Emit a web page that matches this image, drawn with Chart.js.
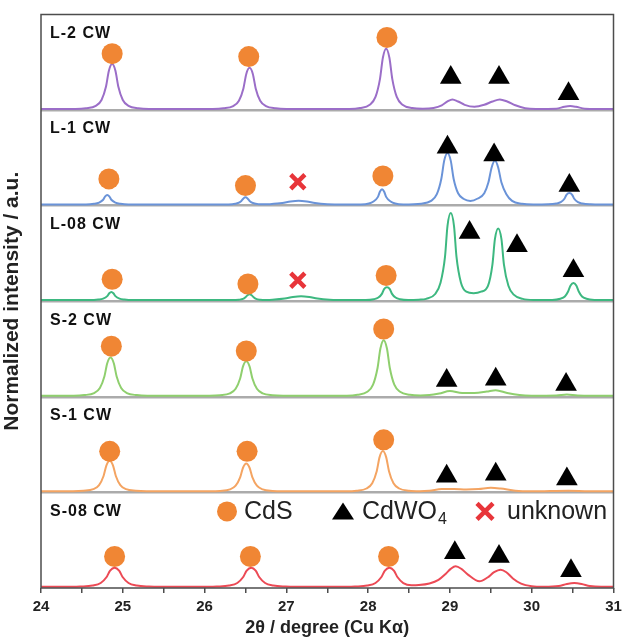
<!DOCTYPE html>
<html>
<head>
<meta charset="utf-8">
<script src="https://cdn.jsdelivr.net/npm/chart.js@4.4.1/dist/chart.umd.min.js"></script>
<style>
  html, body { margin: 0; padding: 0; background: #fff; }
  canvas { display: block; }
</style>
</head>
<body>
<canvas id="xrdChart" width="628" height="639"></canvas>
<script>
// Axis
const angleTicks = [24, 25, 26, 27, 28, 29, 30, 31]

// Samples, top to bottom
const sampleNames = ["L-2 CW", "L-1 CW", "L-08 CW", "S-2 CW", "S-1 CW", "S-08 CW"]
const sampleColors = ["#9b6ec8", "#6a93d8", "#3db880", "#8fcf6e", "#f4a462", "#ec4a55"]

// Patterns [2θ, normalized intensity]
const l2cw = [
  [24, .012], [24.42, .012], [24.55, .019], [24.67, .045], [24.74, .106], [24.795, .247], [24.83, .412],
  [24.87, .482], [24.91, .412], [24.945, .247], [25.00, .106], [25.07, .045], [25.19, .019], [25.32, .012],
  [26.10, .012], [26.23, .018], [26.35, .042], [26.42, .098], [26.475, .227], [26.51, .378], [26.55, .442],
  [26.59, .378], [26.625, .227], [26.68, .098], [26.75, .042], [26.87, .018], [27.00, .012],
  [27.77, .012], [27.90, .021], [28.02, .056], [28.09, .138], [28.145, .327], [28.18, .548], [28.22, .642],
  [28.26, .548], [28.295, .327], [28.35, .138], [28.42, .056], [28.54, .021], [28.67, .014],
  [28.80, .022], [28.90, .050], [28.97, .090], [29.03, .112], [29.10, .090], [29.18, .055],
  [29.30, .035], [29.42, .055], [29.52, .090], [29.61, .112], [29.70, .090], [29.80, .050], [29.92, .020],
  [30.05, .012], [30.30, .015], [30.40, .035], [30.47, .042], [30.54, .035], [30.65, .015], [30.80, .012],
  [31, .012]
]
const l1cw = [
  [24, .012], [24.55, .012], [24.65, .019], [24.71, .032], [24.76, .062], [24.785, .097], [24.81, .112],
  [24.835, .097], [24.86, .062], [24.91, .032], [24.97, .019], [25.07, .012],
  [26.24, .012], [26.34, .016], [26.40, .025], [26.45, .050], [26.475, .076], [26.50, .087], [26.525, .076],
  [26.55, .050], [26.60, .025], [26.66, .016], [26.75, .014],
  [26.80, .016], [26.95, .028], [27.05, .044], [27.15, .052], [27.25, .044], [27.35, .028], [27.50, .016],
  [27.70, .012],
  [27.91, .012], [28.01, .022], [28.065, .044], [28.12, .092], [28.145, .148], [28.17, .172], [28.195, .148],
  [28.22, .092], [28.275, .044], [28.33, .022], [28.43, .012],
  [28.65, .020], [28.77, .050], [28.84, .120], [28.895, .282], [28.93, .471], [28.97, .552], [29.01, .471],
  [29.045, .282], [29.10, .130], [29.17, .070], [29.25, .050], [29.34, .075], [29.42, .130], [29.47, .242],
  [29.51, .400], [29.55, .472], [29.59, .400], [29.63, .242], [29.69, .120], [29.76, .050], [29.88, .020],
  [30.02, .012], [30.20, .014], [30.30, .022], [30.355, .036], [30.40, .072], [30.425, .114], [30.46, .132],
  [30.495, .114], [30.52, .072], [30.565, .036], [30.62, .022], [30.72, .014], [30.85, .012], [31, .012]
]
const l08cw = [
  [24, .012], [24.60, .012], [24.70, .018], [24.76, .028], [24.81, .054], [24.835, .084], [24.86, .097],
  [24.885, .084], [24.91, .054], [24.96, .028], [25.02, .018], [25.12, .012],
  [26.34, .012], [26.42, .016], [26.47, .024], [26.50, .042], [26.525, .063], [26.55, .072], [26.575, .063],
  [26.60, .042], [26.63, .024], [26.68, .016], [26.76, .014],
  [26.83, .016], [26.98, .028], [27.08, .044], [27.18, .052], [27.28, .044], [27.38, .028], [27.53, .016],
  [27.75, .012],
  [27.97, .012], [28.07, .021], [28.125, .039], [28.17, .080], [28.195, .127], [28.23, .147], [28.265, .127],
  [28.29, .080], [28.335, .039], [28.39, .021], [28.49, .012],
  [28.62, .016], [28.71, .025], [28.82, .076], [28.885, .194], [28.94, .467], [28.97, .786], [29.01, .922],
  [29.05, .786], [29.08, .467], [29.135, .194], [29.20, .100], [29.29, .085], [29.38, .100], [29.465, .162],
  [29.52, .387], [29.55, .650], [29.59, .762], [29.63, .650], [29.66, .387], [29.715, .162], [29.78, .070],
  [29.89, .025], [30.02, .014],
  [30.25, .014], [30.35, .026], [30.405, .050], [30.445, .102], [30.475, .165], [30.51, .192], [30.545, .165],
  [30.575, .102], [30.615, .050], [30.67, .026], [30.77, .014], [30.90, .012], [31, .012]
]
const s2cw = [
  [24, .012], [24.40, .012], [24.53, .018], [24.65, .040], [24.72, .092], [24.775, .212], [24.81, .352],
  [24.85, .412], [24.89, .352], [24.925, .212], [24.98, .092], [25.05, .040], [25.17, .018], [25.30, .012],
  [26.06, .012], [26.19, .017], [26.31, .037], [26.38, .084], [26.435, .192], [26.47, .318], [26.51, .372],
  [26.55, .318], [26.585, .192], [26.64, .084], [26.71, .037], [26.83, .017], [26.96, .012],
  [27.74, .012], [27.87, .021], [27.99, .053], [28.06, .128], [28.115, .302], [28.15, .505], [28.19, .592],
  [28.23, .505], [28.265, .302], [28.32, .128], [28.39, .053], [28.51, .021], [28.64, .013],
  [28.75, .018], [28.87, .035], [29.00, .060], [29.15, .040], [29.30, .040], [29.45, .055], [29.56, .070],
  [29.70, .040], [29.85, .018], [30.00, .012], [30.30, .014], [30.43, .025], [30.56, .014], [30.75, .012],
  [31, .012]
]
const s1cw = [
  [24, .012], [24.39, .012], [24.52, .017], [24.64, .034], [24.71, .076], [24.765, .172], [24.80, .284],
  [24.84, .332], [24.88, .284], [24.915, .172], [24.97, .076], [25.04, .034], [25.16, .017], [25.29, .012],
  [26.06, .012], [26.19, .016], [26.31, .032], [26.38, .070], [26.435, .157], [26.47, .258], [26.51, .302],
  [26.55, .258], [26.585, .157], [26.64, .070], [26.71, .032], [26.83, .016], [26.96, .012],
  [27.73, .012], [27.86, .018], [27.98, .041], [28.05, .096], [28.105, .222], [28.14, .369], [28.18, .432],
  [28.22, .369], [28.255, .222], [28.31, .096], [28.38, .041], [28.50, .018], [28.63, .013],
  [28.75, .018], [28.90, .035], [29.05, .035], [29.20, .030], [29.35, .035], [29.50, .048], [29.62, .040],
  [29.80, .018], [30.00, .012], [30.45, .018], [30.70, .012], [31, .012]
]
const s08cw = [
  [24, .012], [24.40, .012], [24.48, .015], [24.63, .026], [24.73, .052], [24.80, .112], [24.845, .182],
  [24.90, .212], [24.955, .182], [25.00, .112], [25.07, .052], [25.17, .026], [25.32, .015], [25.45, .012],
  [26.07, .012], [26.15, .015], [26.30, .026], [26.40, .052], [26.47, .112], [26.515, .182], [26.57, .212],
  [26.625, .182], [26.67, .112], [26.74, .052], [26.84, .026], [26.99, .015], [27.10, .012],
  [27.76, .012], [27.84, .015], [27.99, .026], [28.09, .052], [28.16, .112], [28.205, .182], [28.26, .212],
  [28.315, .182], [28.36, .112], [28.43, .052], [28.53, .030],
  [28.62, .032], [28.75, .048], [28.86, .085], [28.95, .150], [29.01, .200], [29.07, .227], [29.14, .200],
  [29.22, .140], [29.36, .070], [29.46, .110], [29.54, .165], [29.62, .192], [29.69, .165], [29.77, .100],
  [29.87, .045], [30.00, .018], [30.15, .012], [30.33, .020], [30.43, .042], [30.52, .052], [30.61, .042],
  [30.71, .020], [30.85, .012], [31, .012]
]
const patterns = [l2cw, l1cw, l08cw, s2cw, s1cw, s08cw]

// Phase marks [sample index, 2θ, height above baseline]
const cdsMarks = [
  [0, 24.87, .59], [0, 26.54, .56], [0, 28.23, .76],
  [1, 24.83, .28], [1, 26.50, .21], [1, 28.18, .31],
  [2, 24.87, .23], [2, 26.53, .18], [2, 28.22, .27],
  [3, 24.86, .53], [3, 26.51, .48], [3, 28.19, .71],
  [4, 24.84, .43], [4, 26.52, .43], [4, 28.19, .55],
  [5, 24.90, .33], [5, 26.56, .33], [5, 28.25, .33]
]
const cdwo4Marks = [
  [0, 29.01, .34], [0, 29.60, .34], [0, 30.45, .17],
  [1, 28.97, .61], [1, 29.54, .53], [1, 30.46, .21],
  [2, 29.24, .72], [2, 29.82, .58], [2, 30.51, .32],
  [3, 28.96, .17], [3, 29.56, .185], [3, 30.42, .13],
  [4, 28.96, .17], [4, 29.56, .19], [4, 30.43, .14],
  [5, 29.06, .37], [5, 29.60, .33], [5, 30.48, .18]
]
const unknownMarks = [
  [1, 27.14, .25],
  [2, 27.14, .22]
]

const FONT = "'Liberation Sans', Arial, Helvetica, sans-serif"
const CDS_COLOR = "#f08634"
const UNKNOWN_COLOR = "#e8353a"
const FRAME_COLOR = "#4d4d4d"

// Chaque échantillon occupe une bande de hauteur 1
function panelBase(i) {
  return sampleNames.length - 1 - i
}

function toMarkPoints(marks) {
  return marks.map(([i, x, h]) => ({ x: x, y: panelBase(i) + h }))
}

const datasets = []

// Marks first so they sit on top
datasets.push({
  type: "scatter",
  data: toMarkPoints(cdsMarks),
  pointStyle: "circle",
  pointRadius: 10.5,
  backgroundColor: CDS_COLOR,
  borderWidth: 0,
  order: 1,
})
datasets.push({
  type: "scatter",
  data: toMarkPoints(cdwo4Marks),
  pointStyle: "triangle",
  pointRadius: 12.5,
  backgroundColor: "#000000",
  borderWidth: 0,
  order: 1,
})
datasets.push({
  type: "scatter",
  data: toMarkPoints(unknownMarks),
  pointStyle: "crossRot",
  pointRadius: 10,
  borderColor: UNKNOWN_COLOR,
  borderWidth: 4.5,
  order: 1,
})

patterns.forEach((pts, i) => {
  datasets.push({
    type: "line",
    label: sampleNames[i],
    data: pts.map(([x, y]) => ({ x: x, y: panelBase(i) + y })),
    borderColor: sampleColors[i],
    borderWidth: 2,
    pointRadius: 0,
    cubicInterpolationMode: "monotone",
    fill: false,
    order: 2,
  })
})

// Cadre + étiquettes + légende
const decorPlugin = {
  id: "decor",
  afterDatasetsDraw(chart) {
    const { ctx, chartArea } = chart
    const yScale = chart.scales.y
    ctx.save()

    // sample labels
    ctx.fillStyle = "#111"
    ctx.font = "bold 16px " + FONT
    ctx.textBaseline = "middle"
    ctx.textAlign = "left"
    if ("letterSpacing" in ctx) ctx.letterSpacing = "1px"
    sampleNames.forEach((name, i) => {
      const top = yScale.getPixelForValue(panelBase(i) + 1)
      ctx.fillText(name, chartArea.left + 9, top + 19)
    })
    if ("letterSpacing" in ctx) ctx.letterSpacing = "0px"

    // legend inside the bottom panel
    const ly = yScale.getPixelForValue(1) + 19
    const lx = chartArea.left
    ctx.fillStyle = CDS_COLOR
    ctx.beginPath()
    ctx.arc(lx + 186, ly, 10, 0, Math.PI * 2)
    ctx.fill()

    ctx.fillStyle = "#000"
    ctx.beginPath()
    ctx.moveTo(lx + 302, ly - 9)
    ctx.lineTo(lx + 313, ly + 8)
    ctx.lineTo(lx + 291, ly + 8)
    ctx.closePath()
    ctx.fill()

    ctx.strokeStyle = UNKNOWN_COLOR
    ctx.lineWidth = 4.5
    ctx.beginPath()
    ctx.moveTo(lx + 436, ly - 8)
    ctx.lineTo(lx + 452, ly + 8)
    ctx.moveTo(lx + 452, ly - 8)
    ctx.lineTo(lx + 436, ly + 8)
    ctx.stroke()

    ctx.fillStyle = "#222"
    ctx.font = "25px " + FONT
    ctx.fillText("CdS", lx + 203, ly + 1)
    ctx.fillText("CdWO", lx + 321, ly + 1)
    const w = ctx.measureText("CdWO").width
    ctx.font = "16px " + FONT
    ctx.fillText("4", lx + 321 + w + 1, ly + 8)
    ctx.font = "25px " + FONT
    ctx.fillText("unknown", lx + 466, ly + 1)

    // frame
    ctx.strokeStyle = FRAME_COLOR
    ctx.lineWidth = 1.5
    ctx.strokeRect(chartArea.left, chartArea.top, chartArea.right - chartArea.left, chartArea.bottom - chartArea.top)
    ctx.restore()
  },
}

new Chart(document.getElementById("xrdChart"), {
  type: "line",
  data: { datasets: datasets },
  options: {
    responsive: false,
    animation: false,
    events: [],
    layout: { padding: { top: 12, right: 8, left: 0, bottom: 0 } },
    plugins: {
      legend: { display: false },
      tooltip: { enabled: false },
    },
    scales: {
      x: {
        type: "linear",
        min: angleTicks[0],
        max: angleTicks[angleTicks.length - 1],
        border: { display: false },
        grid: {
          drawOnChartArea: false,
          drawTicks: true,
          tickLength: 5,
          color: FRAME_COLOR,
          lineWidth: 1.5,
        },
        ticks: {
          stepSize: 0.5,
          autoSkip: false,
          maxRotation: 0,
          padding: 5,
          color: "#222",
          font: { family: FONT, size: 15, weight: "bold" },
          callback: (v) => (angleTicks.includes(v) ? String(v) : ""),
        },
        title: {
          display: true,
          text: "2θ / degree (Cu Kα)",
          color: "#222",
          font: { family: FONT, size: 18, weight: "bold" },
          padding: { top: 0, bottom: 0 },
        },
        afterFit(scale) {
          scale.height = 51
        },
      },
      y: {
        min: 0,
        max: sampleNames.length,
        border: { display: false },
        grid: {
          drawTicks: false,
          color: (c) => (c.tick && c.tick.value > 0 && c.tick.value < sampleNames.length ? "#ababab" : "rgba(0,0,0,0)"),
          lineWidth: 2.5,
        },
        ticks: { display: false, stepSize: 1 },
        title: {
          display: true,
          text: "Normalized intensity / a.u.",
          color: "#222",
          font: { family: FONT, size: 21, weight: "bold" },
          padding: { top: 0, bottom: 10 },
        },
        afterFit(scale) {
          scale.width = 41
        },
      },
    },
  },
  plugins: [decorPlugin],
})
</script>
</body>
</html>
